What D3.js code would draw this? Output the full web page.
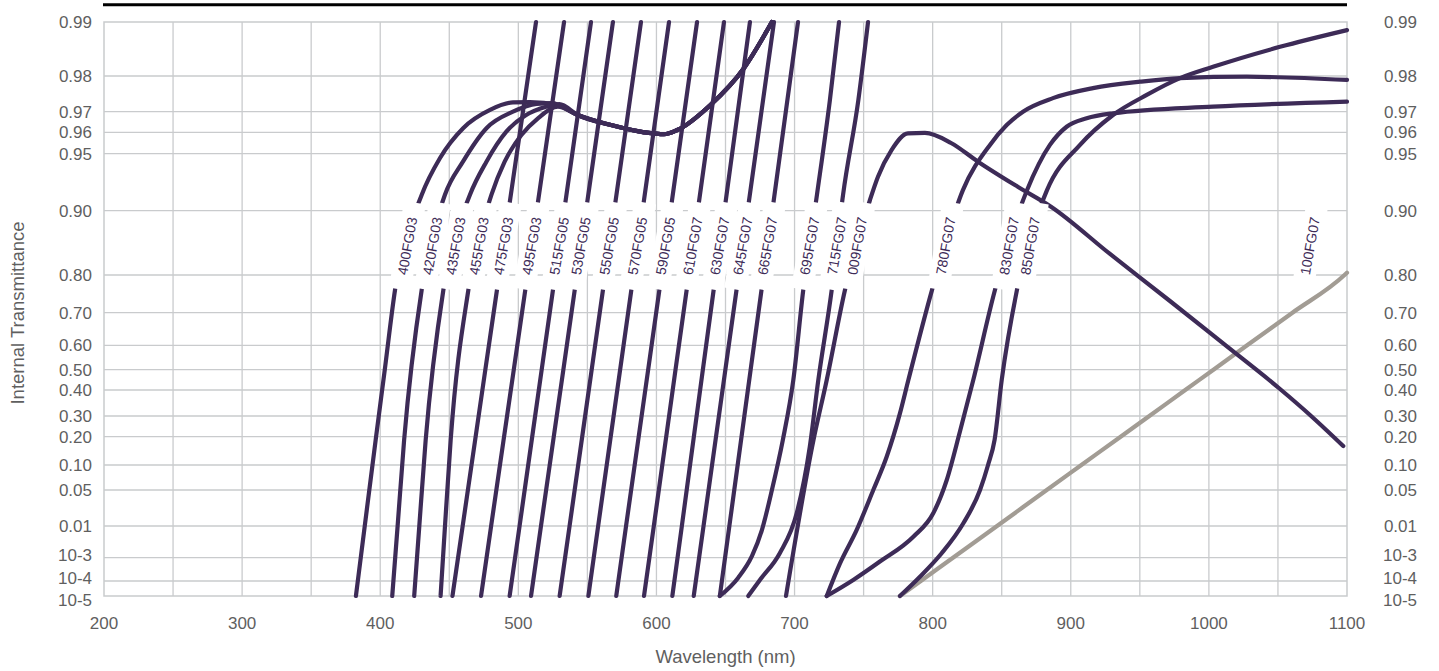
<!DOCTYPE html>
<html><head><meta charset="utf-8">
<script src="https://cdn.jsdelivr.net/npm/d3@7"></script>
<style>
body{margin:0;background:#fff;}
svg{display:block;font-family:"Liberation Sans",Arial,Helvetica,sans-serif;}
</style>
</head><body>
<svg id="chart" width="1439" height="671"></svg>
<script>
// ---------------- DATA ----------------
const xTickValues = [200,300,400,500,600,700,800,900,1000,1100];
const yTickValues = [0.99,0.98,0.97,0.96,0.95,0.90,0.80,0.70,0.60,0.50,0.40,0.30,0.20,0.10,0.05,0.01,1e-3,1e-4,1e-5];
const yTickLabels = ["0.99","0.98","0.97","0.96","0.95","0.90","0.80","0.70","0.60","0.50","0.40","0.30","0.20","0.10","0.05","0.01","10-3","10-4","10-5"];

// shared FG03 glass plateau (wavelength nm, internal transmittance)
const fg03Base = [[528.6,0.9719],[543.0,0.9684],[567.1,0.9635],[591.1,0.960],[605.5,0.9591],[615.1,0.9611],[639.1,0.9719],[663.2,0.9814],[683.6,0.99]];

const f400FG03 = [[382.4,1e-5],[388.8,0.01],[396.7,0.188],[403.3,0.5],[410.7,0.76],[430.0,0.9138],[443.3,0.9462],[460.2,0.9621],[479.5,0.9705],[496.1,0.9726],[508.4,0.9727]];
const f420FG03 = [[408.7,1e-5],[412.6,0.01],[417.3,0.188],[430.0,0.76],[446.8,0.9138],[459.9,0.943],[477.1,0.9621],[496.1,0.970],[513.3,0.9722],[525.1,0.9724]];
const f435FG03 = [[424.6,1e-5],[428.3,0.01],[432.9,0.188],[445.7,0.76],[464.9,0.9138],[476.9,0.943],[491.3,0.9603],[505.7,0.9684],[520.1,0.9714],[529.7,0.9721]];
const f455FG03 = [[443.7,1e-5],[446.9,0.01],[451.0,0.188],[463.8,0.76],[480.5,0.9138],[490.1,0.943],[502.2,0.9587],[514.2,0.9668],[528.6,0.9714]];
const f475FG03 = [[452.3,1e-5],[459.7,0.01],[476.1,0.5],[492.9,0.9],[512.8,0.99]];
const f495FG03 = [[473.0,1e-5],[480.3,0.01],[496.7,0.5],[513.3,0.9],[533.1,0.99]];
const f515FG05 = [[493.7,1e-5],[500.9,0.01],[516.9,0.5],[533.2,0.9],[552.6,0.99]];
const f530FG05 = [[509.2,1e-5],[516.4,0.01],[532.6,0.5],[549.0,0.9],[568.5,0.99]];
const f550FG05 = [[529.9,1e-5],[537.1,0.01],[553.1,0.5],[569.4,0.9],[588.8,0.99]];
const f570FG05 = [[550.7,1e-5],[557.8,0.01],[573.7,0.5],[589.9,0.9],[609.1,0.99]];
const f590FG05 = [[570.9,1e-5],[578.0,0.01],[594.0,0.5],[610.2,0.9],[629.4,0.99]];
const f610FG07 = [[591.0,1e-5],[598.1,0.01],[613.8,0.5],[629.9,0.9],[648.9,0.99]];
const f630FG07 = [[611.5,1e-5],[618.4,0.01],[633.6,0.5],[649.2,0.9],[667.7,0.99]];
const f645FG07 = [[627.0,1e-5],[634.1,0.01],[649.9,0.5],[666.0,0.9],[685.1,0.99]];
const f665FG07 = [[645.9,1e-5],[652.8,0.01],[668.2,0.5],[683.9,0.9],[702.5,0.99]];
const f695FG07 = [[645.9,1e-5],[659.1,2.2e-4],[669.2,1.5e-3],[676.4,8.9e-3],[683.6,0.05],[691.5,0.188],[699.1,0.449],[706.3,0.76],[716.2,0.9138],[725.6,0.9733],[732.2,0.99]];
const f715FG07 = [[666.5,1e-5],[674.9,1.39e-4],[689.4,2.33e-3],[701.6,0.0244],[711.0,0.1636],[717.2,0.449],[726.9,0.76],[735.1,0.9138],[746.2,0.9733],[753.2,0.99]];
const f009FG07 = [[693.8,1e-5],[713.7,0.188],[723.3,0.449],[736.5,0.76],[754.6,0.9094],[760.4,0.9298],[770.2,0.9517],[782.1,0.9595],[794.4,0.9597],[813.3,0.955],[832.8,0.943],[861.6,0.921],[885.7,0.9035],[928.4,0.8327],[971.8,0.731],[1011.7,0.601],[1051.5,0.405],[1073.2,0.304],[1097.3,0.167]];
const f780FG07 = [[723.3,1e-5],[732.9,7.8e-4],[745.0,8.9e-3],[757.0,0.05],[766.7,0.129],[776.3,0.31],[782.4,0.449],[799.5,0.76],[821.9,0.918],[841.5,0.9541],[853.6,0.9635],[865.4,0.97],[887.1,0.9738],[916.1,0.9766],[950.1,0.9784],[979.1,0.9794],[1027.4,0.9798],[1100,0.9789]];
const f830FG07 = [[723.3,1e-5],[742.5,1.39e-4],[761.8,8.5e-4],[786.0,6.96e-3],[800.4,0.0241],[810.2,0.07],[819.8,0.226],[829.4,0.449],[845.1,0.76],[868.3,0.918],[884.9,0.9541],[897.0,0.9627],[911.5,0.9668],[930.6,0.9692],[1003.0,0.9714],[1100,0.9728]];
const f850FG07 = [[776.3,1e-5],[790.8,2.66e-4],[806.5,2.25e-3],[822.2,0.013],[834.3,0.05],[840.1,0.1],[844.8,0.188],[850.0,0.449],[861.0,0.76],[882.8,0.918],[906.7,0.9541],[930.6,0.9684],[955.0,0.9747],[979.1,0.9794],[1003.0,0.9817],[1051.5,0.9854],[1100,0.9885]];
const f1000FG07 = [[776.3,1e-5],[791.4,1e-4],[814.7,1e-3],[846.6,0.01],[882.6,0.05],[907.7,0.1],[936.1,0.2],[956.9,0.3],[982.9,0.4],[1003.3,0.5],[1027.7,0.6],[1060.5,0.7],[1098.2,0.8],[1100,0.8037]];

const filterNames = ["400FG03","420FG03","435FG03","455FG03","475FG03","495FG03","515FG05","530FG05","550FG05","570FG05","590FG05","610FG07","630FG07","645FG07","665FG07","695FG07","715FG07","009FG07","780FG07","830FG07","850FG07","100FG07"];

// ---------------- LAYOUT ----------------
const plotL = 104, plotR = 1347;
const yTickPos = [22,76,111.7,132.3,153.7,210.7,275,312.7,345.3,369.7,390,416,436.7,465,490,526,557.7,581,596];
const labelY = 246;
const purple = "#3d2b57", grey = "#a29c94", gridC = "#c9cbcd", textC = "#5f5f5f";

const withBase = s => s.concat(fg03Base.filter(p => p[0] > s[s.length-1][0]));
const series = [
  withBase(f400FG03), withBase(f420FG03), withBase(f435FG03), withBase(f455FG03),
  f475FG03, f495FG03, f515FG05, f530FG05, f550FG05, f570FG05, f590FG05,
  f610FG07, f630FG07, f645FG07, f665FG07, f695FG07, f715FG07, f009FG07,
  f780FG07, f830FG07, f850FG07, f1000FG07
];

const svg = d3.select("#chart");
const x = d3.scaleLinear().domain([200,1100]).range([plotL, plotR]);
const y = d3.scaleLinear().domain(yTickValues).range(yTickPos);
const plotT = y(0.99), plotB = y(1e-5);

// top rule
svg.append("line").attr("x1", plotL-1).attr("x2", plotR).attr("y1", 4.7).attr("y2", 4.7)
  .attr("stroke", "#000").attr("stroke-width", 3);

// grid
const g = svg.append("g");
g.selectAll("line.v").data(d3.range(250, 1100, 50)).join("line")
  .attr("x1", d => x(d)).attr("x2", d => x(d)).attr("y1", plotT).attr("y2", plotB)
  .attr("stroke", gridC).attr("stroke-width", 1.3);
g.selectAll("line.h").data(yTickValues.slice(1, -1)).join("line")
  .attr("x1", plotL).attr("x2", plotR).attr("y1", d => y(d)).attr("y2", d => y(d))
  .attr("stroke", gridC).attr("stroke-width", 1.3);
g.append("rect").attr("x", plotL).attr("y", plotT).attr("width", plotR-plotL).attr("height", plotB-plotT)
  .attr("fill", "none").attr("stroke", gridC).attr("stroke-width", 1.5);

// axis tick labels
const nudge = {"10-3": -3, "10-4": -3, "10-5": 4.5};
const yLab = svg.append("g").attr("font-size", 17).attr("fill", textC);
yTickValues.forEach((v, i) => {
  const t = yTickLabels[i], yy = y(v) + (nudge[t] || 0);
  yLab.append("text").attr("x", 92).attr("y", yy).attr("dy", "0.35em").attr("text-anchor", "end").text(t);
  yLab.append("text").attr("x", 1417).attr("y", yy).attr("dy", "0.35em").attr("text-anchor", "end").text(t);
});
svg.append("g").attr("font-size", 17).attr("fill", textC)
  .selectAll("text").data(xTickValues).join("text")
  .attr("x", d => x(d)).attr("y", 629).attr("text-anchor", "middle").text(d => d);

svg.append("text").attr("x", (plotL+plotR)/2).attr("y", 663).attr("text-anchor", "middle")
  .attr("font-size", 18.5).attr("fill", textC).text("Wavelength (nm)");
svg.append("text").attr("transform", "translate(24,313) rotate(-90)").attr("text-anchor", "middle")
  .attr("font-size", 18.5).attr("fill", textC).text("Internal Transmittance");

// curves
const line = d3.line().x(d => x(d[0])).y(d => y(d[1])).curve(d3.curveMonotoneX);
const cg = svg.append("g").attr("fill", "none").attr("stroke-width", 4.2)
  .attr("stroke-linecap", "round").attr("stroke-linejoin", "round");
cg.append("path").attr("d", line(series[21])).attr("stroke", grey);
series.slice(0, 21).forEach(s => cg.append("path").attr("d", line(s)).attr("stroke", purple));

// labels placed where each curve crosses the label band
function crossX(s, yy) {
  const pts = s.map(d => [x(d[0]), y(d[1])]);
  for (let k = 1; k < pts.length; k++) {
    const [x0, y0] = pts[k-1], [x1, y1] = pts[k];
    if ((y0 - yy) * (y1 - yy) <= 0 && y0 !== y1) return x0 + (yy - y0) / (y1 - y0) * (x1 - x0);
  }
  return null;
}
const lg = svg.append("g");
series.forEach((s, i) => {
  let cx = crossX(s, labelY);
  if (cx === null) cx = plotR - 37;
  const gg = lg.append("g").attr("transform", `translate(${cx},${labelY}) rotate(-80)`);
  gg.append("rect").attr("x", -44).attr("y", -11).attr("width", 88).attr("height", 22).attr("fill", "#fff");
  gg.append("text").attr("text-anchor", "middle").attr("dy", "0.35em").attr("font-size", 14)
    .attr("fill", purple).text(filterNames[i]);
});
</script>
</body></html>
